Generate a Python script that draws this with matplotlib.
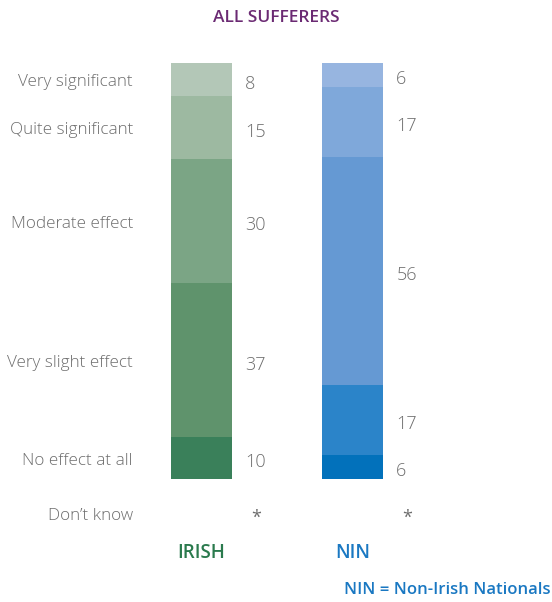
import numpy as np
from matplotlib import pyplot as plt

# data
categories = ['Very significant', 'Quite significant', 'Moderate effect',
              'Very slight effect', 'No effect at all']
groups = ['IRISH', 'NIN']
irish = [8, 15, 30, 37, 10]
nin = [6, 17, 56, 17, 6]
dont_know = ['*', '*']

irish_colors = ['#b3c7b7', '#9db9a1', '#7ba585', '#5f936c', '#3a805a']
nin_colors = ['#97b5e0', '#7fa8da', '#6599d3', '#2b84c9', '#0271bb']
group_colors = ['#2a7a4d', '#1a78c2']
grey = '#6d6d6d'

plt.rcParams['font.family'] = ['Open Sans', 'DejaVu Sans']

fig = plt.figure(figsize=(5.52, 6.02), dpi=100)
ax = fig.add_axes([0, 123 / 602, 1, 416 / 602])

series = [irish, nin]
palettes = [irish_colors, nin_colors]
for i, (vals, cols) in enumerate(zip(series, palettes)):
    v = np.array(vals, dtype=float)
    pct = v / v.sum() * 100
    bottoms = np.concatenate([[0], np.cumsum(pct)[:-1]])
    ax.bar([i] * len(v), pct, bottom=bottoms, width=0.404, color=cols,
           linewidth=0)
    for val, b, h in zip(vals, bottoms, pct):
        ax.text(i + 0.29, b + h / 2 + 1.0, str(val), ha='left', va='center',
                fontsize=13, color=grey, fontweight='light')
    ax.text(i + 0.29 + 0.07, 109.3, dont_know[i], ha='center', va='center',
            fontsize=13, color=grey, clip_on=False)
    ax.text(i, 117.8, groups[i], ha='center', va='center', fontsize=13.5,
            color=group_colors[i], fontweight='semibold', clip_on=False)

# category labels aligned with the Irish segments
v = np.array(irish, dtype=float)
pct = v / v.sum() * 100
centers = np.cumsum(pct) - pct / 2
for cat, c in zip(categories, centers):
    ax.text(-0.454, c + 0.6, cat, ha='right', va='center', fontsize=12.3,
            color=grey, fontweight='light')
ax.text(-0.454, 108.8, "Don\u2019t know", ha='right', va='center',
        fontsize=12.3, color=grey, fontweight='light', clip_on=False)

ax.set_xlim(-1.334, 2.321)
ax.set_ylim(100, 0)
ax.axis('off')

fig.text(0.5, 1 - 18 / 602, 'ALL SUFFERERS', ha='center', va='center',
         fontsize=12.5, color='#6b2a73', fontweight='semibold')
fig.text(0.997, 1 - 590 / 602, 'NIN = Non-Irish Nationals', ha='right',
         va='center', fontsize=12, color='#1a78c2', fontweight='semibold')

fig.savefig('out.png', dpi=100)
